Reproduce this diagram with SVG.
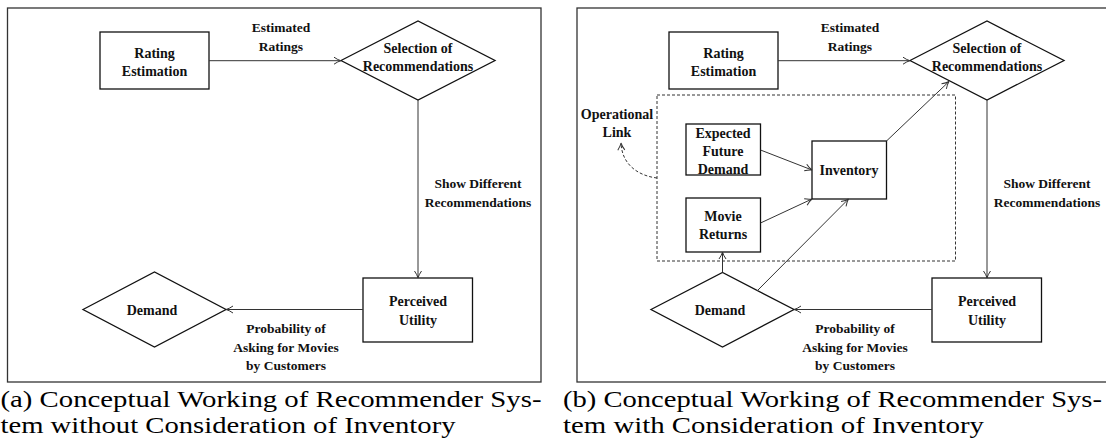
<svg xmlns="http://www.w3.org/2000/svg" width="1106" height="446" viewBox="0 0 1106 446">
<style>
  .frame{fill:none;stroke:#333;stroke-width:1.3}
  .node{fill:#fff;stroke:#111;stroke-width:1.3}
  .nt{font-family:"Liberation Serif","Times New Roman","DejaVu Serif",serif;font-weight:bold;font-size:14px;fill:#111;text-anchor:middle}
  .lt{font-family:"Liberation Serif","Times New Roman","DejaVu Serif",serif;font-weight:bold;font-size:13.5px;fill:#111;text-anchor:middle}
  .cap{font-family:"Liberation Serif","Times New Roman","DejaVu Serif",serif;font-size:24px;fill:#000}
  .edge{fill:none;stroke:#333;stroke-width:1;marker-end:url(#arr)}
  .dash{fill:none;stroke:#333;stroke-width:1;stroke-dasharray:3,2}
</style>
<defs>
  <marker id="arr" markerUnits="userSpaceOnUse" viewBox="0 0 10 10" refX="9" refY="5" markerWidth="10" markerHeight="10" orient="auto">
    <path d="M2,1.5 Q6,4.3 9,5 Q6,5.7 2,8.5" fill="none" stroke="#333" stroke-width="1"/>
  </marker>
</defs>
<rect width="1106" height="446" fill="#fff"/>

<!-- Panel (a) -->
<rect class="frame" x="7.5" y="8" width="533.5" height="374"/>
<g id="a-rating">
  <rect class="node" x="100" y="32" width="109" height="57"/>
  <text class="nt" x="154.5" y="57.5">Rating</text>
  <text class="nt" x="154.5" y="76">Estimation</text>
</g>
<g id="a-selection">
  <polygon class="node" points="341,60.5 418,21 495,60.5 418,100"/>
  <text class="nt" x="418" y="52.5">Selection of</text>
  <text class="nt" x="418" y="70.5">Recommendations</text>
</g>
<g id="a-perceived">
  <rect class="node" x="363" y="278" width="109.5" height="64"/>
  <text class="nt" x="418" y="306">Perceived</text>
  <text class="nt" x="418" y="325">Utility</text>
</g>
<g id="a-demand">
  <polygon class="node" points="83,309.5 154.5,272 226,309.5 154.5,347"/>
  <text class="nt" x="152" y="315">Demand</text>
</g>
<g id="a-connectors">
  <path class="edge" d="M209,60.7 H341"/>
  <path class="edge" d="M418,100 V278"/>
  <path class="edge" d="M363,309.5 H226"/>
  <text class="lt" x="281" y="32">Estimated</text>
  <text class="lt" x="281" y="51">Ratings</text>
  <text class="lt" x="478" y="188">Show Different</text>
  <text class="lt" x="478" y="207">Recommendations</text>
  <text class="lt" x="286" y="333">Probability of</text>
  <text class="lt" x="286" y="352">Asking for Movies</text>
  <text class="lt" x="286" y="370">by Customers</text>
</g>
<text class="cap" x="0.5" y="407" textLength="541" lengthAdjust="spacingAndGlyphs">(a) Conceptual Working of Recommender Sys-</text>
<text class="cap" x="0.5" y="433" textLength="455" lengthAdjust="spacingAndGlyphs">tem without Consideration of Inventory</text>

<!-- Panel (b) -->
<rect class="frame" x="577" y="8" width="540" height="374"/>
<rect class="dash" x="657" y="95" width="298.5" height="166"/>
<g id="b-rating">
  <rect class="node" x="669" y="32" width="109" height="57"/>
  <text class="nt" x="723.5" y="57.5">Rating</text>
  <text class="nt" x="723.5" y="76">Estimation</text>
</g>
<g id="b-selection">
  <polygon class="node" points="910,60.5 987,21 1064,60.5 987,100"/>
  <text class="nt" x="987" y="52.5">Selection of</text>
  <text class="nt" x="987" y="70.5">Recommendations</text>
</g>
<g id="b-perceived">
  <rect class="node" x="932" y="278" width="109.5" height="64"/>
  <text class="nt" x="987" y="306">Perceived</text>
  <text class="nt" x="987" y="325">Utility</text>
</g>
<g id="b-demand">
  <polygon class="node" points="651,309.5 722.5,272.5 794,309.5 722.5,347"/>
  <text class="nt" x="720" y="315">Demand</text>
</g>
<g id="b-expected">
  <rect class="node" x="686" y="124" width="74.5" height="51"/>
  <text class="nt" x="723" y="137.5">Expected</text>
  <text class="nt" x="723" y="156">Future</text>
  <text class="nt" x="723" y="173.5">Demand</text>
</g>
<g id="b-inventory">
  <rect class="node" x="812" y="141" width="74.5" height="58"/>
  <text class="nt" x="849" y="175">Inventory</text>
</g>
<g id="b-returns">
  <rect class="node" x="686" y="198" width="74.5" height="54"/>
  <text class="nt" x="723" y="220.5">Movie</text>
  <text class="nt" x="723" y="239">Returns</text>
</g>
<g id="b-oplink">
  <text class="nt" x="617" y="119">Operational</text>
  <text class="nt" x="617" y="137">Link</text>
</g>
<g id="b-connectors">
  <path class="edge" d="M778,60.7 H910"/>
  <path class="edge" d="M987,100 V278"/>
  <path class="edge" d="M932,309.5 H794"/>
  <path class="edge" d="M760.5,150 L812,170"/>
  <path class="edge" d="M760.5,223 L812,199"/>
  <path class="edge" d="M757,291 L848.5,199"/>
  <path class="edge" d="M886.5,141 L949,81.5"/>
  <path class="edge" d="M722.5,272.5 V252"/>
  <path class="dash" d="M657,178 C640,176 622,166 621,143" marker-end="url(#arr)"/>
  <text class="lt" x="850" y="32">Estimated</text>
  <text class="lt" x="850" y="51">Ratings</text>
  <text class="lt" x="1047" y="188">Show Different</text>
  <text class="lt" x="1047" y="207">Recommendations</text>
  <text class="lt" x="855" y="333">Probability of</text>
  <text class="lt" x="855" y="352">Asking for Movies</text>
  <text class="lt" x="855" y="370">by Customers</text>
</g>
<text class="cap" x="563" y="407" textLength="539" lengthAdjust="spacingAndGlyphs">(b) Conceptual Working of Recommender Sys-</text>
<text class="cap" x="563" y="433" textLength="421" lengthAdjust="spacingAndGlyphs">tem with Consideration of Inventory</text>
</svg>
